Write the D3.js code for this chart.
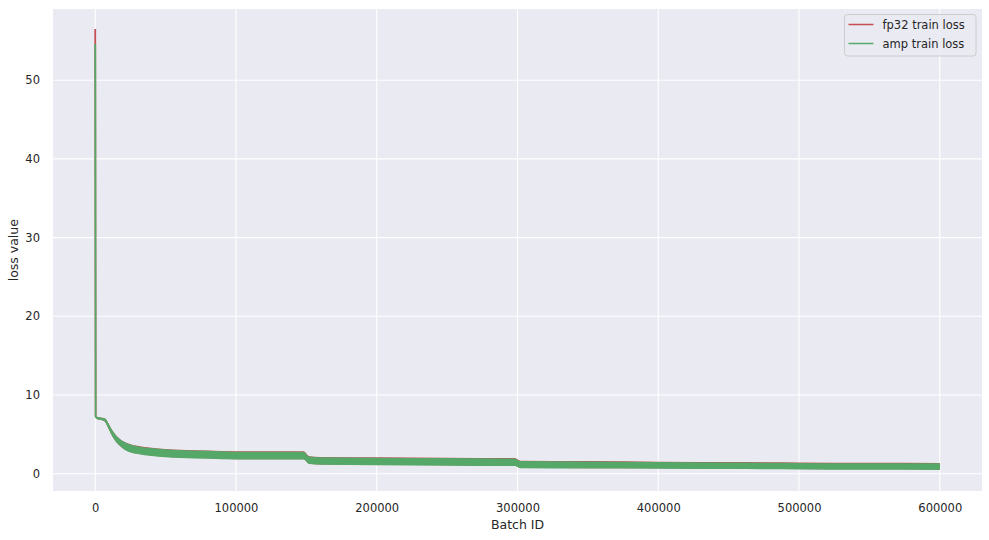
<!DOCTYPE html>
<html>
<head>
<meta charset="utf-8">
<script src="https://cdn.jsdelivr.net/npm/d3@7"></script>
<style>
  body { margin: 0; background: #fff; }
  text { font-family: "DejaVu Sans", sans-serif; fill: #262626; }
</style>
</head>
<body>
<div id="container"></div>
<script>
/* CONSTANTS AND GLOBALS */
const width = 989;
const height = 540;
const margin = { top: 9, bottom: 49, left: 53, right: 7 };

/* DATA */
const batchIds = [0, 300, 1000, 3000, 5000, 7000, 9000, 11000, 13000, 15000, 18000, 21000, 25000,
  30000, 40000, 50000, 60000, 80000, 100000, 120000, 140000, 148000, 152000, 160000, 200000,
  250000, 298000, 302000, 350000, 400000, 450000, 500000, 550000, 600000];
const fp32Loss = [56.5, 7.3, 7.1, 7.0, 6.95, 6.8, 6.2, 5.5, 4.9, 4.4, 3.9, 3.55, 3.25,
  3.05, 2.8, 2.65, 2.55, 2.45, 2.35, 2.35, 2.35, 2.35, 1.75, 1.65, 1.6,
  1.55, 1.5, 1.2, 1.15, 1.1, 1.05, 1.0, 0.97, 0.95];
const ampLoss = [54.6, 7.3, 7.1, 7.0, 6.95, 6.8, 6.2, 5.5, 4.9, 4.4, 3.9, 3.5, 3.2,
  3.0, 2.75, 2.6, 2.5, 2.4, 2.3, 2.3, 2.3, 2.3, 1.7, 1.6, 1.55,
  1.5, 1.45, 1.15, 1.1, 1.05, 1.0, 0.95, 0.92, 0.9];
// half height of the noisy band around each value
const noiseSpread = [0, 0, 0.12, 0.15, 0.15, 0.2, 0.3, 0.35, 0.4, 0.42, 0.45, 0.48, 0.5,
  0.5, 0.5, 0.5, 0.5, 0.5, 0.5, 0.5, 0.5, 0.5, 0.48, 0.48, 0.48,
  0.48, 0.48, 0.45, 0.45, 0.42, 0.42, 0.42, 0.42, 0.42];
const seriesNames = ["fp32 train loss", "amp train loss"];
const seriesColors = ["#C44E52", "#55A868"];
const xTicks = [0, 100000, 200000, 300000, 400000, 500000, 600000];
const yTicks = [0, 10, 20, 30, 40, 50];

/* SCALES */
const xScale = d3.scaleLinear()
  .domain([-30000, 630000])
  .range([margin.left, width - margin.right]);

const yScale = d3.scaleLinear()
  .domain([-2.2, 59.05])
  .range([height - margin.bottom, margin.top]);

const svg = d3.select('#container')
  .append('svg')
  .attr('width', width)
  .attr('height', height);

// plot background
svg.append('rect')
  .attr('x', margin.left)
  .attr('y', margin.top)
  .attr('width', width - margin.left - margin.right)
  .attr('height', height - margin.top - margin.bottom)
  .attr('fill', '#EAEAF2');

// grid
svg.append('g').selectAll('line')
  .data(xTicks)
  .join('line')
  .attr('x1', d => xScale(d)).attr('x2', d => xScale(d))
  .attr('y1', margin.top).attr('y2', height - margin.bottom)
  .attr('stroke', '#fff').attr('stroke-width', 1.1);

svg.append('g').selectAll('line')
  .data(yTicks)
  .join('line')
  .attr('y1', d => yScale(d)).attr('y2', d => yScale(d))
  .attr('x1', margin.left).attr('x2', width - margin.right)
  .attr('stroke', '#fff').attr('stroke-width', 1.1);

// axes (labels only, seaborn darkgrid has no spines)
const xAxis = svg.append('g')
  .attr('transform', `translate(0,${height - margin.bottom})`)
  .call(d3.axisBottom(xScale).tickValues(xTicks).tickFormat(d3.format('d')).tickSize(0).tickPadding(13));
const yAxis = svg.append('g')
  .attr('transform', `translate(${margin.left},0)`)
  .call(d3.axisLeft(yScale).tickValues(yTicks).tickSize(0).tickPadding(13));
[xAxis, yAxis].forEach(a => {
  a.select('.domain').remove();
  a.selectAll('text').attr('font-size', 11.5).attr('font-family', 'DejaVu Sans').attr('fill', '#262626');
});

svg.append('text')
  .attr('x', xScale(300000))
  .attr('y', 529)
  .attr('text-anchor', 'middle')
  .attr('font-size', 12.5)
  .text('Batch ID');

svg.append('text')
  .attr('transform', `translate(18,${yScale(28.4)}) rotate(-90)`)
  .attr('text-anchor', 'middle')
  .attr('font-size', 12.5)
  .text('loss value');

/* SERIES */
const series = [fp32Loss, ampLoss].map((vals, i) => ({
  name: seriesNames[i],
  color: seriesColors[i],
  points: batchIds.map((b, j) => ({ b, v: vals[j], s: noiseSpread[j] }))
}));

const band = d3.area()
  .x(d => xScale(d.b))
  .y0(d => yScale(d.v - d.s))
  .y1(d => yScale(d.v + d.s))
  .curve(d3.curveMonotoneX);
const line = d3.line()
  .x(d => xScale(d.b))
  .y(d => yScale(d.v))
  .curve(d3.curveMonotoneX);

const plot = svg.append('g');
series.forEach(s => {
  plot.append('path')
    .datum(s.points)
    .attr('d', band)
    .attr('fill', s.color);
  plot.append('path')
    .datum(s.points)
    .attr('d', line)
    .attr('fill', 'none')
    .attr('stroke', s.color)
    .attr('stroke-width', 1.8);
});

/* LEGEND */
const legend = svg.append('g').attr('transform', 'translate(844.5,14.5)');
legend.append('rect')
  .attr('width', 131.5).attr('height', 41.5)
  .attr('rx', 3)
  .attr('fill', '#EAEAF2').attr('fill-opacity', 0.8)
  .attr('stroke', '#cccccc').attr('stroke-width', 1);
series.forEach((s, i) => {
  const y = 10 + i * 19;
  legend.append('line')
    .attr('x1', 4).attr('x2', 29).attr('y1', y).attr('y2', y)
    .attr('stroke', s.color).attr('stroke-width', 1.5);
  legend.append('text')
    .attr('x', 38).attr('y', y)
    .attr('dy', '0.35em')
    .attr('font-size', 11.5)
    .text(s.name);
});
</script>
</body>
</html>
